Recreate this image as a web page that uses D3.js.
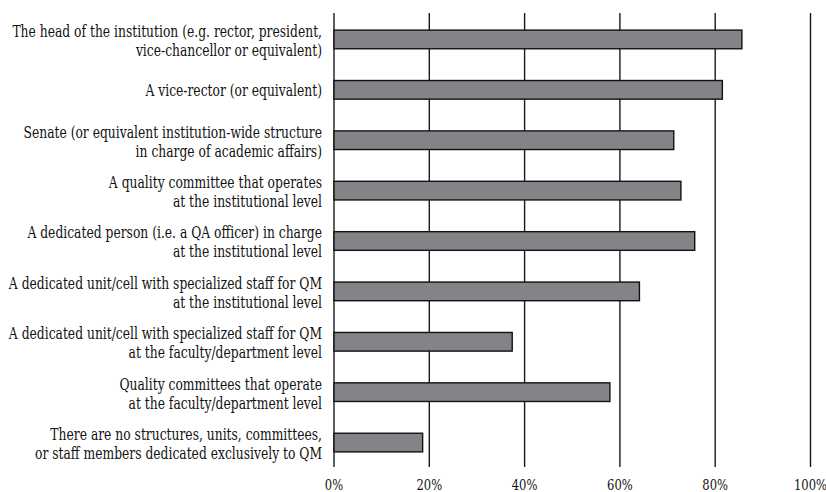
<!DOCTYPE html>
<html>
<head>
<meta charset="utf-8">
<script src="https://cdn.jsdelivr.net/npm/d3@7"></script>
<style>
html,body{margin:0;padding:0;background:#fff;}
svg{display:block;}
text{font-family:"DejaVu Serif",serif;fill:#111;}
</style>
</head>
<body>
<svg id="chart" width="826" height="492"></svg>
<script>
const categories = [
  ["The head of the institution (e.g. rector, president,", "vice-chancellor or equivalent)"],
  ["A vice-rector (or equivalent)"],
  ["Senate (or equivalent institution-wide structure", "in charge of academic affairs)"],
  ["A quality committee that operates", "at the institutional level"],
  ["A dedicated person (i.e. a QA officer) in charge", "at the institutional level"],
  ["A dedicated unit/cell with specialized staff for QM", "at the institutional level"],
  ["A dedicated unit/cell with specialized staff for QM", "at the faculty/department level"],
  ["Quality committees that operate", "at the faculty/department level"],
  ["There are no structures, units, committees,", "or staff members dedicated exclusively to QM"]
];
const values = [85.6, 81.5, 71.3, 72.8, 75.7, 64.1, 37.4, 57.9, 18.6];
const tickValues = [0, 20, 40, 60, 80, 100];
const tickLabels = ["0%", "20%", "40%", "60%", "80%", "100%"];

const svg = d3.select("#chart");
const x = d3.scaleLinear().domain([0, 100]).range([334, 810.5]);
const y = d3.scaleBand().domain(d3.range(categories.length)).range([14, 468]).paddingInner(0.63).paddingOuter(0.32);

// gridlines
svg.append("g").selectAll("line").data(tickValues).join("line")
  .attr("x1", d => x(d)).attr("x2", d => x(d))
  .attr("y1", 13).attr("y2", 467)
  .attr("stroke", "#1a1a1a").attr("stroke-width", 1.4);

// bars
svg.append("g").selectAll("rect").data(values).join("rect")
  .attr("x", x(0))
  .attr("y", (d, i) => y(i))
  .attr("width", d => x(d) - x(0))
  .attr("height", y.bandwidth())
  .attr("fill", "#838487")
  .attr("stroke", "#111").attr("stroke-width", 1.4);

// category labels
const rightX = 322;
const lg = svg.append("g");
categories.forEach((lines, i) => {
  const c = y(i) + y.bandwidth() / 2;
  const base = lines.length === 1 ? [c + 6] : [c - 2.5, c + 16.5];
  lines.forEach((t, j) => {
    lg.append("text")
      .attr("class", "cat")
      .attr("x", 0).attr("y", base[j])
      .attr("text-anchor", "end")
      .attr("font-size", 16)
      .text(t);
  });
});
// condense horizontally so the first label line spans ~310px like the reference
const firstW = lg.select("text.cat").node().getComputedTextLength();
const sx = 310 / firstW;
lg.attr("transform", `translate(${rightX},0) scale(${sx},1)`);

// tick labels
svg.append("g").selectAll("text").data(tickValues).join("text")
  .attr("x", 0).attr("y", 490)
  .attr("text-anchor", "middle")
  .attr("font-size", 15)
  .attr("transform", d => `translate(${x(d)},0) scale(${sx},1)`)
  .text((d, i) => tickLabels[i]);
</script>
</body>
</html>
